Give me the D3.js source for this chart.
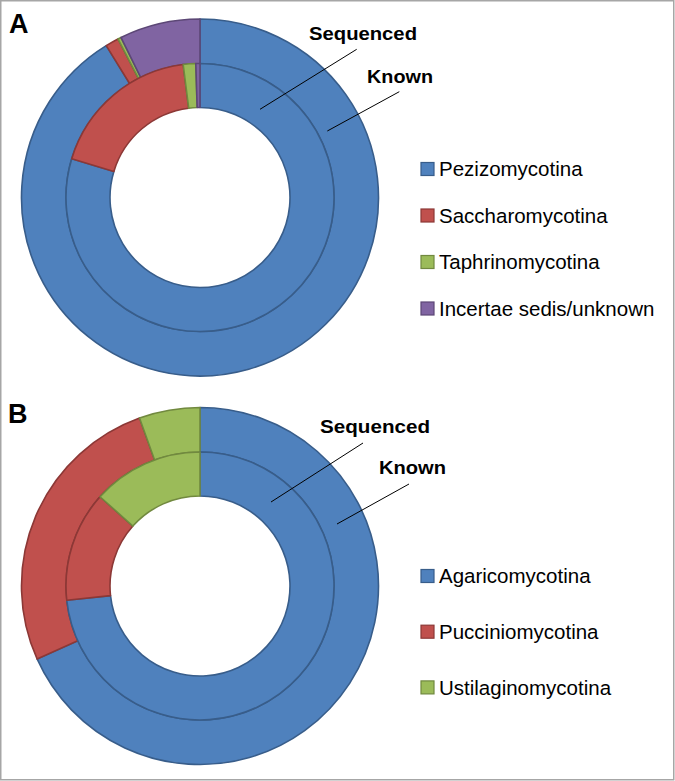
<!DOCTYPE html>
<html>
<head>
<meta charset="utf-8">
<script src="https://cdn.jsdelivr.net/npm/d3@7"></script>
<style>
  html, body { margin: 0; padding: 0; background: #fff; }
  svg { display: block; }
</style>
</head>
<body>
<svg id="chart" width="675" height="781"></svg>
<script>
// ---- Data ----
const categoriesA = ["Pezizomycotina", "Saccharomycotina", "Taphrinomycotina", "Incertae sedis/unknown"];
const knownA      = [91.2, 1.2, 0.3, 7.3];
const sequencedA  = [79.6, 18.3, 1.5, 0.5];

const categoriesB = ["Agaricomycotina", "Pucciniomycotina", "Ustilaginomycotina"];
const knownB      = [68.3, 26.2, 5.5];
const sequencedB  = [73.3, 13.3, 13.4];

const ringLabels = ["Sequenced", "Known"];
const panelLabels = ["A", "B"];

// ---- Styles ----
const fills   = ["#4F81BD", "#C0504D", "#9BBB59", "#8064A2"];
const strokes = ["#385D8A", "#8C3836", "#71893F", "#5C4776"];

const svg = d3.select("#chart");

// frame
svg.append("rect")
  .attr("x", 0.75).attr("y", 0.75)
  .attr("width", 673).attr("height", 779)
  .attr("fill", "none").attr("stroke", "#a6a6a6").attr("stroke-width", 1.5);

const rInner = 90, rMid = 134, rOuter = 178.5;

const pie = d3.pie().sort(null).value(d => d).startAngle(0).endAngle(2 * Math.PI);
const arcInner = d3.arc().innerRadius(rInner).outerRadius(rMid);
const arcOuter = d3.arc().innerRadius(rMid).outerRadius(rOuter);

function drawPanel(cfg) {
  const g = svg.append("g").attr("transform", `translate(${cfg.cx},${cfg.cy})`);
  // outer ring: Known
  g.append("g").selectAll("path")
    .data(pie(cfg.known)).join("path")
    .attr("d", arcOuter)
    .attr("fill", (d, i) => fills[i])
    .attr("stroke", (d, i) => strokes[i])
    .attr("stroke-width", 1.6)
    .attr("stroke-linejoin", "round");
  // inner ring: Sequenced
  g.append("g").selectAll("path")
    .data(pie(cfg.sequenced)).join("path")
    .attr("d", arcInner)
    .attr("fill", (d, i) => fills[i])
    .attr("stroke", (d, i) => strokes[i])
    .attr("stroke-width", 1.6)
    .attr("stroke-linejoin", "round");

  // panel letter
  svg.append("text")
    .attr("x", cfg.letter[0]).attr("y", cfg.letter[1])
    .attr("font-family", "Liberation Sans, Arial, sans-serif")
    .attr("font-weight", "bold")
    .attr("font-size", 27)
    .attr("fill", "#000")
    .text(cfg.label);

  // ring annotations
  cfg.annotations.forEach((a, i) => {
    svg.append("line")
      .attr("x1", a.line[0]).attr("y1", a.line[1])
      .attr("x2", a.line[2]).attr("y2", a.line[3])
      .attr("stroke", "#000").attr("stroke-width", 1);
    svg.append("text")
      .attr("x", a.text[0]).attr("y", a.text[1])
      .attr("font-family", "Liberation Sans, Arial, sans-serif")
      .attr("font-weight", "bold")
      .attr("font-size", 18)
      .attr("textLength", a.width)
      .attr("lengthAdjust", "spacingAndGlyphs")
      .attr("fill", "#000")
      .text(ringLabels[i]);
  });

  // legend
  const lg = svg.append("g");
  cfg.categories.forEach((c, i) => {
    const y = cfg.legendY0 + i * cfg.legendStep;
    lg.append("rect")
      .attr("x", 421).attr("y", y - 6.5)
      .attr("width", 13).attr("height", 13)
      .attr("fill", fills[i]).attr("stroke", strokes[i]).attr("stroke-width", 1.2);
    lg.append("text")
      .attr("x", 439).attr("y", y + 7.3)
      .attr("font-family", "Liberation Sans, Arial, sans-serif")
      .attr("font-size", 20.5)
      .attr("fill", "#000")
      .text(c);
  });
}

drawPanel({
  label: panelLabels[0], cx: 200, cy: 197.5,
  known: knownA, sequenced: sequencedA, categories: categoriesA,
  letter: [9, 33],
  annotations: [
    { text: [309, 40], width: 108, line: [356.7, 49.3, 260, 109.3] },
    { text: [367, 82.5], width: 66, line: [399.3, 91.7, 327.3, 131] }
  ],
  legendY0: 169, legendStep: 46.5
});

drawPanel({
  label: panelLabels[1], cx: 200, cy: 586,
  known: knownB, sequenced: sequencedB, categories: categoriesB,
  letter: [8, 423],
  annotations: [
    { text: [320, 432.5], width: 110, line: [363, 443, 271, 502] },
    { text: [379, 474], width: 67, line: [409, 484, 337, 524] }
  ],
  legendY0: 576, legendStep: 55.7
});
</script>
</body>
</html>
